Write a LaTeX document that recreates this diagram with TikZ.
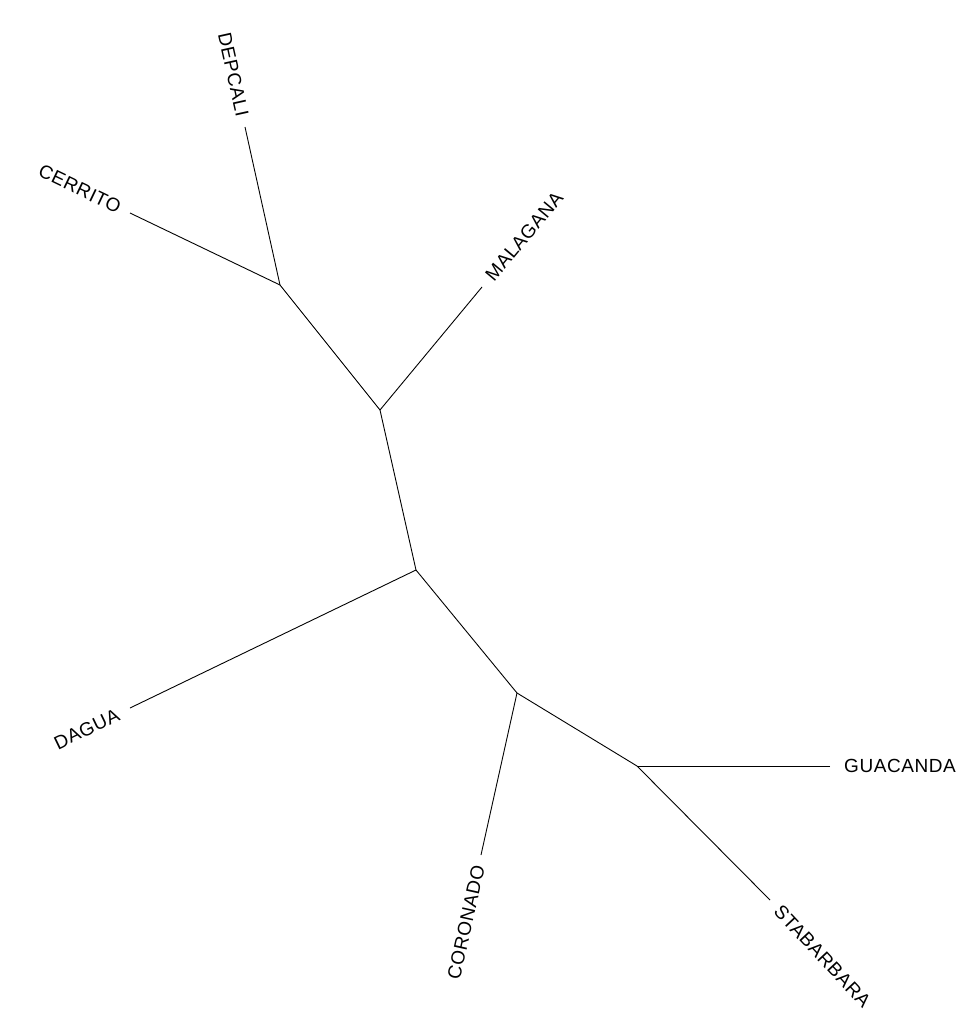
\documentclass[tikz,border=0pt]{standalone}
\usepackage{fontspec}
\setmainfont{Liberation Sans}[LetterSpace=3]
\begin{document}
\begin{tikzpicture}[x=1pt,y=-1pt,
  branch/.style={draw=black,line width=0.9pt},
  taxon/.style={font=\fontsize{19}{22}\selectfont,inner sep=11pt,text=black}]
\useasboundingbox (0,0) rectangle (976,1012);
% internal junctions
\coordinate (j1) at (280,285);
\coordinate (j2) at (380,410);
\coordinate (j3) at (416,570);
\coordinate (j4) at (517,693);
\coordinate (j5) at (637,766);
% leaf ends
\coordinate (ldepcali) at (245,127);
\coordinate (lcerrito) at (130,213);
\coordinate (lmalagana) at (482,287);
\coordinate (ldagua) at (130,708);
\coordinate (lcoronado) at (481,855);
\coordinate (lguacanda) at (830,766);
\coordinate (lstabarbara) at (770,900);
% branches
\draw[branch] (ldepcali) -- (j1);
\draw[branch] (lcerrito) -- (j1);
\draw[branch] (j1) -- (j2);
\draw[branch] (lmalagana) -- (j2);
\draw[branch] (j2) -- (j3);
\draw[branch] (ldagua) -- (j3);
\draw[branch] (j3) -- (j4);
\draw[branch] (lcoronado) -- (j4);
\draw[branch] (j4) -- (j5);
\draw[branch] (lguacanda) -- (j5);
\draw[branch] (lstabarbara) -- (j5);
% labels
\node[taxon,anchor=east,rotate=-77.5] (depcali) at (ldepcali) {DEPCALI};
\node[taxon,anchor=east,rotate=-25.6] (cerrito) at (lcerrito) {CERRITO};
\node[taxon,anchor=west,rotate=50.3] (malagana) at (lmalagana) {MALAGANA};
\node[taxon,anchor=east,rotate=25.8,inner sep=13pt] (dagua) at (ldagua) {DAGUA};
\node[taxon,anchor=east,rotate=77.5] (coronado) at (lcoronado) {CORONADO};
\node[taxon,anchor=west,inner sep=14pt] (guacanda) at (lguacanda) {GUACANDA};
\node[taxon,anchor=west,rotate=-47] (stabarbara) at (lstabarbara) {STABARBARA};
\end{tikzpicture}
\end{document}
